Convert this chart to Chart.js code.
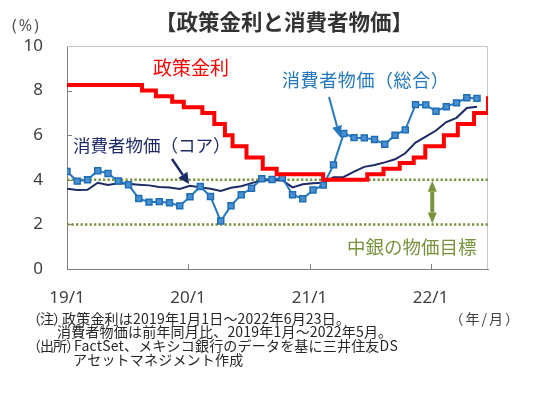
<!DOCTYPE html>
<html lang="ja">
<head>
<meta charset="utf-8">
<script src="https://cdn.jsdelivr.net/npm/chart.js@4.4.0/dist/chart.umd.min.js"></script>
<style>
html,body{margin:0;padding:0;background:#fff;}
#wrap{position:relative;width:538px;height:397px;}
</style>
</head>
<body>
<div id="wrap"><canvas id="chart" width="538" height="397"></canvas></div>
<script>
// 政策金利（2019/1/1 からの経過日数）
const rateDays = [0,226,268,317,352,408,444,476,499,541,590,632,772,905,954,1003,1045,1080,1136,1178,1227,1269];
const rateValues = [8.25,8.00,7.75,7.50,7.25,7.00,6.50,6.00,5.50,5.00,4.50,4.25,4.00,4.25,4.50,4.75,5.00,5.50,6.00,6.50,7.00,7.75];

// 消費者物価 前年同月比（2019/1～2022/5）
const cpiHeadline = [4.37,3.94,4.00,4.41,4.28,3.95,3.78,3.16,3.00,3.02,2.97,2.83,
  3.24,3.70,3.25,2.15,2.84,3.33,3.62,4.05,4.01,4.09,3.33,3.15,
  3.54,3.76,4.67,6.08,5.89,5.88,5.81,5.59,6.00,6.24,7.37,7.36,
  7.07,7.28,7.45,7.68,7.65];
const cpiCore = [3.60,3.54,3.55,3.87,3.77,3.85,3.82,3.78,3.75,3.68,3.65,3.59,
  3.73,3.66,3.60,3.50,3.64,3.71,3.85,3.97,3.99,3.98,3.66,3.80,
  3.84,3.87,4.12,4.13,4.37,4.58,4.66,4.78,4.92,5.19,5.67,5.94,
  6.21,6.59,6.78,7.22,7.28];

// 物価目標レンジ
const targetLow = 2;
const targetHigh = 4;

// 目盛り
const tickDays = [0,365,731,1096];
const tickLabels = ['19/1','20/1','21/1','22/1'];
const dayMax = 1269;

const RED = '#FF0000', BLUE = '#2478C0', NAVY = '#1C2A66', GREEN = '#77933C';
const JP = '"Noto Sans CJK JP", sans-serif';

const ratePts = rateDays.map((d, i) => ({x: d, y: rateValues[i]}));
const headPts = cpiHeadline.map((v, i) => ({x: i, y: v}));
const corePts = cpiCore.map((v, i) => ({x: i, y: v}));

function arrow(ctx, x1, y1, x2, y2, color, w, hl, hw) {
  const a = Math.atan2(y2 - y1, x2 - x1);
  const bx = x2 - hl * Math.cos(a), by = y2 - hl * Math.sin(a);
  ctx.strokeStyle = color; ctx.fillStyle = color; ctx.lineWidth = w;
  ctx.beginPath(); ctx.moveTo(x1, y1); ctx.lineTo(bx, by); ctx.stroke();
  ctx.beginPath();
  ctx.moveTo(x2, y2);
  ctx.lineTo(bx + hw / 2 * Math.sin(a), by - hw / 2 * Math.cos(a));
  ctx.lineTo(bx - hw / 2 * Math.sin(a), by + hw / 2 * Math.cos(a));
  ctx.closePath(); ctx.fill();
}

function text(ctx, s, x, y, font, color, align, spacing) {
  ctx.font = font; ctx.fillStyle = color;
  ctx.textAlign = align || 'left'; ctx.textBaseline = 'middle';
  ctx.letterSpacing = spacing || '0px';
  ctx.fillText(s, x, y);
  ctx.letterSpacing = '0px';
}

const decor = {
  id: 'decor',
  beforeDatasetsDraw(chart) {
    const {ctx, chartArea: a, scales} = chart;
    ctx.save();
    ctx.strokeStyle = '#C8C8C8'; ctx.lineWidth = 1;
    ctx.beginPath();
    ctx.moveTo(a.left, a.top + 0.5); ctx.lineTo(a.right - 0.5, a.top + 0.5); ctx.lineTo(a.right - 0.5, a.bottom);
    ctx.stroke();
    // 内向きの目盛り
    ctx.strokeStyle = '#808080';
    ctx.beginPath();
    [2,4,6,8].forEach(v => {
      const y = Math.round(scales.y.getPixelForValue(v)) + 0.5;
      ctx.moveTo(a.left, y); ctx.lineTo(a.left + 5, y);
    });
    tickDays.slice(1).forEach(d => {
      const x = Math.round(scales.x.getPixelForValue(d)) + 0.5;
      ctx.moveTo(x, a.bottom); ctx.lineTo(x, a.bottom - 5);
    });
    ctx.stroke();
    ctx.restore();
  },
  afterDatasetsDraw(chart) {
    const {ctx, scales} = chart;
    ctx.save();
    // 物価目標の両矢印
    const ax = scales.x.getPixelForValue(1101);
    const y4 = scales.y.getPixelForValue(targetHigh), y2 = scales.y.getPixelForValue(targetLow);
    const mid = (y4 + y2) / 2;
    arrow(ctx, ax, mid, ax, y4 + 1, GREEN, 4, 11, 9);
    arrow(ctx, ax, mid, ax, y2 - 1, GREEN, 4, 11, 9);
    // 注記の矢印
    arrow(ctx, 329, 97, 340, 137, BLUE, 2, 11, 10);
    arrow(ctx, 172, 159, 189, 184, NAVY, 2.5, 11, 11);
    ctx.restore();
  },
  afterDraw(chart) {
    const {ctx} = chart;
    ctx.save();
    text(ctx, '【政策金利と消費者物価】', 155, 22, 'bold 21.5px ' + JP, '#333333');
    text(ctx, '(%)', 12, 26, '16px "Noto Sans", sans-serif', '#595959', 'left', '2px');
    text(ctx, '政策金利', 153, 68, '19px ' + JP, RED);
    text(ctx, '消費者物価（総合）', 282, 80, '18px ' + JP, BLUE, 'left', '0.6px');
    text(ctx, '消費者物価（コア）', 73, 145, '17.5px ' + JP, NAVY);
    text(ctx, '中銀の物価目標', 347, 247, '18.5px ' + JP, GREEN);
    const nf = '14px ' + JP, nc = '#262626';
    text(ctx, '（注）', 27, 318.5, nf, nc, 'left', '-1px');
    text(ctx, '政策金利は2019年1月1日～2022年6月23日。', 62, 318.5, nf, nc, 'left', '0.2px');
    text(ctx, '消費者物価は前年同月比、2019年1月～2022年5月。', 57, 332, nf, nc, 'left', '0.2px');
    text(ctx, '（出所）', 27, 346, nf, nc, 'left', '-1px');
    text(ctx, 'FactSet、メキシコ銀行のデータを基に三井住友DS', 74, 346, nf, nc, 'left', '0.2px');
    text(ctx, 'アセットマネジメント作成', 73, 360, nf, nc, 'left', '0.2px');
    text(ctx, '（年/月）', 521, 318.5, nf, '#404040', 'right', '2px');
    ctx.restore();
  }
};

Chart.defaults.font.family = '"Noto Sans", sans-serif';
Chart.defaults.color = '#404040';

new Chart(document.getElementById('chart'), {
  type: 'line',
  data: {
    datasets: [
      {
        label: '政策金利', data: ratePts, xAxisID: 'x', stepped: 'before',
        borderColor: RED, borderWidth: 4, pointRadius: 0, borderJoinStyle: 'miter', order: 1
      },
      {
        label: '消費者物価（総合）', data: headPts, xAxisID: 'xm',
        borderColor: BLUE, borderWidth: 2, pointStyle: 'rect', pointRadius: 4.2,
        pointBackgroundColor: '#4A90D0', pointBorderColor: '#1E6DB8', pointBorderWidth: 1.5, order: 2
      },
      {
        label: '消費者物価（コア）', data: corePts, xAxisID: 'xm',
        borderColor: NAVY, borderWidth: 2, pointRadius: 0, order: 3
      },
      {
        label: '目標上限', data: [{x: 0, y: targetHigh}, {x: dayMax, y: targetHigh}], xAxisID: 'x',
        borderColor: GREEN, borderWidth: 2.5, borderDash: [2.3, 2.2], pointRadius: 0, order: 4
      },
      {
        label: '目標下限', data: [{x: 0, y: targetLow}, {x: dayMax, y: targetLow}], xAxisID: 'x',
        borderColor: GREEN, borderWidth: 2.5, borderDash: [2.3, 2.2], pointRadius: 0, order: 4
      }
    ]
  },
  options: {
    responsive: false,
    animation: false,
    devicePixelRatio: 1,
    layout: {padding: {left: 0, top: 46, right: 50, bottom: 88}},
    plugins: {legend: {display: false}, tooltip: {enabled: false}},
    scales: {
      x: {
        type: 'linear', position: 'bottom', min: 0, max: dayMax,
        grid: {display: false, drawTicks: false},
        border: {display: true, color: '#808080', width: 1},
        afterBuildTicks: s => { s.ticks = tickDays.map(v => ({value: v})); },
        afterFit: s => { s.height = 40; },
        ticks: {
          padding: 19, maxRotation: 0, autoSkip: false,
          font: {size: 17}, color: '#404040',
          callback: v => tickLabels[tickDays.indexOf(v)]
        }
      },
      xm: {type: 'linear', display: false, min: 0, max: 41.07},
      y: {
        min: 0, max: 10,
        grid: {display: false, drawTicks: false},
        border: {display: true, color: '#808080', width: 1},
        afterFit: s => { s.width = 67; },
        ticks: {stepSize: 2, padding: 24, font: {size: 17}, color: '#404040'}
      }
    }
  },
  plugins: [decor]
});
</script>
</body>
</html>
